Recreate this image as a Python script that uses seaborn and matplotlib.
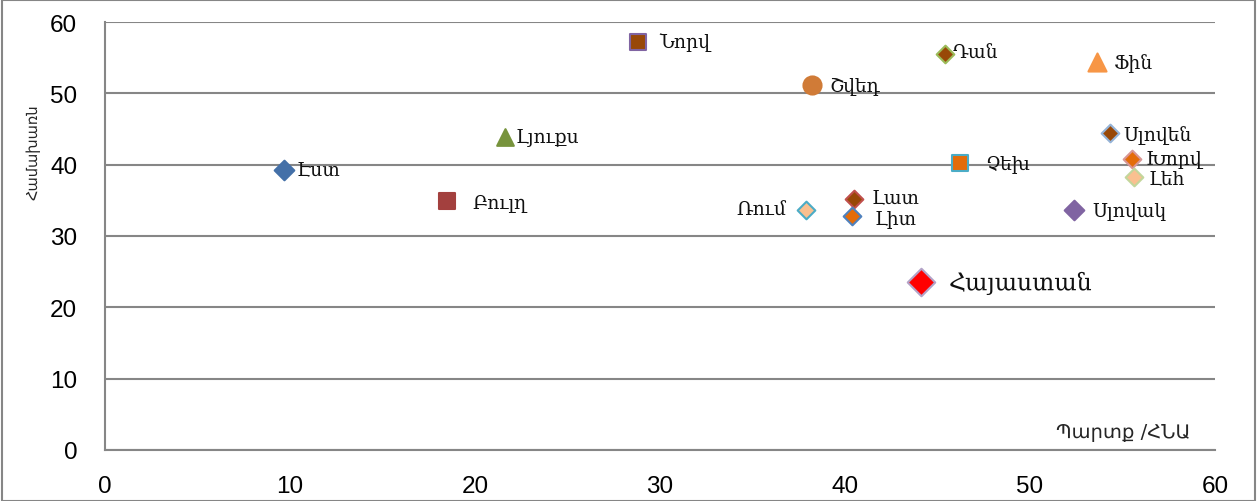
import matplotlib
matplotlib.use("Agg")
import matplotlib.pyplot as plt
import seaborn as sns
import pandas as pd
from matplotlib.patches import Rectangle

# Country data: debt / GDP (x) versus gross ... (y)
countries = ["Էստ", "Բուլղ", "Լյուքս", "Նորվ", "Շվեդ", "Ռում", "Լատ", "Լիտ",
             "Հայաստան", "Դան", "Չեխ", "Ֆին", "Սլովակ", "Սլովեն", "Խորվ", "Լեհ"]
debt_gdp = [9.7, 18.5, 21.6, 28.8, 38.2, 37.9, 40.5, 40.4,
            44.1, 45.4, 46.2, 53.6, 52.4, 54.3, 55.5, 55.6]
gross = [39.2, 34.9, 43.9, 57.2, 51.1, 33.7, 35.2, 32.8,
         23.6, 55.5, 40.3, 54.4, 33.7, 44.4, 40.8, 38.3]

x_ticks = [0, 10, 20, 30, 40, 50, 60]
y_ticks = [0, 10, 20, 30, 40, 50, 60]
x_title = "Պարտք /ՀՆԱ"
y_title = "Համախառն"

# Marker style per country: (marker, face, edge, size, label dx px, label dy px, ha)
styles = {
    "Էստ":      ("D", "#4470A8", "#4470A8", 10, 12, 0, "left"),
    "Բուլղ":    ("s", "#A3403E", "#A3403E", 12, 25, -2, "left"),
    "Լյուքս":   ("^", "#77933C", "#77933C", 12, 11, 0, "left"),
    "Նորվ":     ("s", "#984807", "#8064A2", 12, 22, 0, "left"),
    "Շվեդ":     ("o", "#D07B37", "#D07B37", 13, 18, -1, "left"),
    "Ռում":     ("D", "#FAC090", "#4BACC6", 9, -20, 0, "right"),
    "Լատ":      ("D", "#984807", "#C0504D", 9, 17, 1, "left"),
    "Լիտ":      ("D", "#E46C0A", "#4F81BD", 9, 22, -2, "left"),
    "Հայաստան": ("D", "#FF0000", "#B3A2C7", 14, 28, -1, "left"),
    "Դան":      ("D", "#984807", "#9BBB59", 9, 8, 1, "left"),
    "Չեխ":      ("s", "#E46C0A", "#4BACC6", 12, 25, -1, "left"),
    "Ֆին":      ("^", "#F79646", "#F79646", 13, 17, -1, "left"),
    "Սլովակ":   ("D", "#8064A2", "#8064A2", 10, 18, -1, "left"),
    "Սլովեն":   ("D", "#984807", "#95B3D7", 9, 14, -1, "left"),
    "Խորվ":     ("D", "#E46C0A", "#D99694", 9, 14, 0, "left"),
    "Լեհ":      ("D", "#FAC090", "#C3D69B", 9, 15, -1, "left"),
}

sns.set_theme(style="white")
plt.rcParams["font.family"] = ["Liberation Sans", "DejaVu Sans"]

fig = plt.figure(figsize=(12.57, 5.02), dpi=100)
ax = fig.add_axes([105 / 1257, 1 - 451 / 502, 1110 / 1257, 428 / 502])

df = pd.DataFrame({"country": countries, "x": debt_gdp, "y": gross})
for _, row in df.iterrows():
    mk, face, edge, size, dx, dy, ha = styles[row["country"]]
    sns.scatterplot(x=[row["x"]], y=[row["y"]], ax=ax, marker=mk, s=size ** 2,
                    color=face, edgecolor=edge, linewidth=1.5, zorder=3, legend=False)
    fs = 17 if row["country"] == "Հայաստան" else 13.5
    ax.annotate(row["country"], (row["x"], row["y"]), xytext=(dx * 0.72, dy * 0.72),
                textcoords="offset points", ha=ha, va="center", fontsize=fs,
                family=["DejaVu Serif"], color="#111111", zorder=4)

ax.set_xlim(0, 60)
ax.set_ylim(0, 60)
ax.set_xticks(x_ticks)
ax.set_yticks(y_ticks)
ax.tick_params(axis="both", labelsize=17.5, colors="#000000", length=7, width=1.5,
               direction="out")
ax.tick_params(axis="both", color="#868686")
ax.tick_params(axis="y", pad=13)
ax.tick_params(axis="x", pad=11)
ax.yaxis.grid(True, color="#868686", linewidth=1.5)
ax.xaxis.grid(False)
ax.set_axisbelow(True)
for side in ["top", "right"]:
    ax.spines[side].set_visible(False)
for side in ["left", "bottom"]:
    ax.spines[side].set_color("#868686")
    ax.spines[side].set_linewidth(1.5)
ax.set_xlabel("")
ax.set_ylabel("")

fig.text(1190 / 1257, 1 - 433 / 502, x_title, ha="right", va="center",
         fontsize=14, family=["DejaVu Sans"])
fig.text(33 / 1257, 1 - 152 / 502, y_title, rotation=90, ha="center", va="center",
         fontsize=10.5, family=["DejaVu Sans"])

# Chart frame
fig.patches.append(Rectangle((2 / 1257, 0), 1 - 4 / 1257, 1 - 1 / 502,
                             transform=fig.transFigure, fill=False,
                             edgecolor="#868686", linewidth=1.5))

fig.savefig("out.png", dpi=100)
